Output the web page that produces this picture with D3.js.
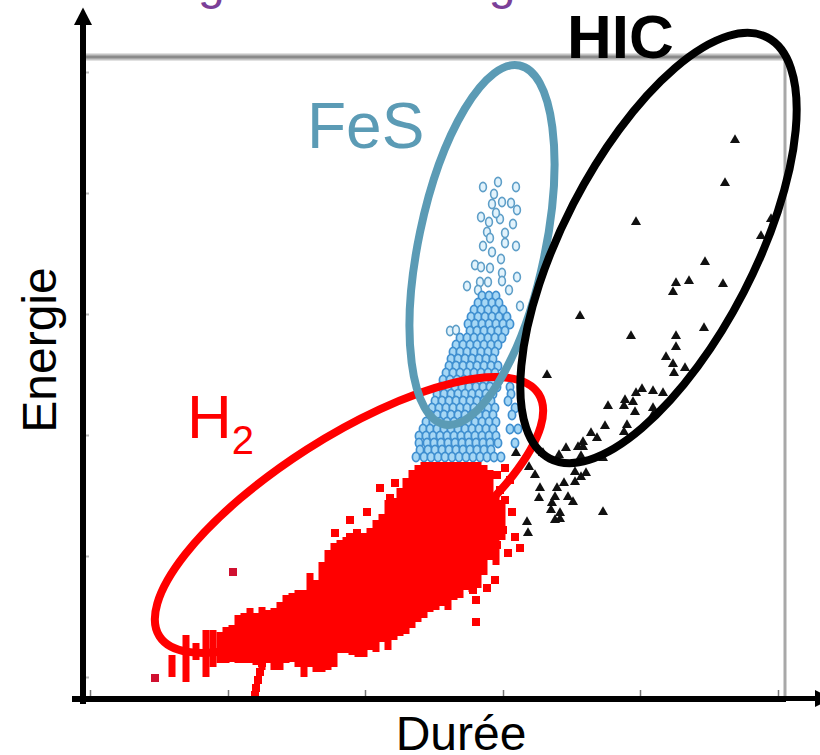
<!DOCTYPE html>
<html>
<head>
<meta charset="utf-8">
<script src="https://cdn.jsdelivr.net/npm/d3@7"></script>
<style>
html,body{margin:0;padding:0;background:#fff;overflow:hidden}
text{font-family:"Liberation Sans",Arial,sans-serif}
</style>
</head>
<body>
<svg id="chart" width="820" height="755"></svg>
<script>
// Chart has no numeric scale: values are arbitrary units.
const titleText = "Diagramme Energie / Durée";
const xLabel = "Durée";
const yLabel = "Energie";
const xTicks = [5,143,280,418,555,693];
const yTicks = [20,141,262,383,504,625];

// HIC events: [durée, énergie]
const hicPoints = [[650,557],[640,514],[551,475],[686,478],[676,461],[620,435],[591,414],[604,416],[638,413],[588,405],
[495,381],[546,361],[619,369],[591,361],[591,350],[581,340],[588,333],[600,329],[589,324],[462,322],
[557,308],[568,306],[578,304],[551,304],[540,297],[548,295],[523,291],[539,291],[550,285],[568,289],
[568,282],[520,271],[542,272],[539,265],[506,264],[512,259],[498,255],[493,250],[498,250],[481,249],
[474,242],[496,241],[458,244],[518,239],[431,244],[444,230],[450,222],[490,225],[501,224],[496,220],
[490,215],[479,214],[455,209],[472,209],[454,199],[470,200],[483,200],[488,195],[467,194],[466,187],
[475,184],[470,177],[475,178],[518,185],[442,175],[443,164]];

// FeS events, isolated ones: [durée, énergie]
const fesSparse = [[398,510],[413,515],[431,510],[409,503],[407,493],[417,495],[426,494],[432,487],[396,480],[404,475],
[415,478],[428,473],[402,465],[420,464],[405,459],[420,454],[398,451],[431,451],[411,484],[407,445],
[390,432],[396,430],[405,429],[416,438],[417,424],[432,420],[395,415],[382,411],[403,415],[417,416],
[424,407],[393,407],[435,391],[365,366],[371,367]];
// FeS events, dense part: one row per energy value
const fesEnergy = [401,394,387,380,373,366,359,352,345,338,331,324,317,310,303,296,289,282,275,268,261,254,247,240];
const fesRows = [
[397,404,411],
[393,400,407,414],
[389,396,403,410,418],
[386,393,400,407,414,422],
[383,390,397,404,411,418,425],
[385,392,399,406,413,420],
[375,382,389,396,403,410,417],
[371,378,385,392,399,406,413],
[368,375,382,389,396,403,410],
[366,373,380,387,394,401,408],
[364,371,378,385,392,399,406,413],
[361,368,375,382,389,396,403,410],
[358,365,372,379,386,393,400,407,414],
[356,363,370,377,384,391,398,405,412,425],
[352,359,366,373,380,387,394,401,408,426],
[350,357,364,371,378,385,392,399,406,423],
[347,354,361,368,375,382,389,396,403,410,430],
[345,352,359,366,373,380,387,394,401,408,427],
[341,348,355,362,369,376,383,390,397,404,411],
[338,345,352,359,366,373,380,387,394,401,408,425,433],
[334,341,348,355,362,369,376,383,390,397,404,411],
[334,342,349,356,363,370,377,384,391,398,405,413,430],
[335,343,350,357,364,371,378,385,392,399,406],
[331,339,346,353,360,367,374,381,388,395,402,409,416]];

// H2 events: the overlapping squares merge, so each column is read as a band
const h2Duree = [87,101,111,121,128,135,141,147,153,159,165,171,177,183,189,195,201,207,213,219,225,231,237,243,249,255,261,267,273,279,285,291,297,303,309,315,321,327,333,339,345,351,357,363,369,375,381,387,393,399,405,411,417];
const h2Low  = [20,15,37,20,30,34,34,35,34,34,34,32,27,34,27,27,34,35,30,20,30,25,25,27,30,44,44,42,40,40,47,45,55,47,57,61,63,69,75,79,85,87,91,87,97,99,107,105,109,122,137,132,157];
const h2High = [42,62,54,67,67,65,70,72,82,84,89,84,90,87,89,95,102,104,107,107,124,117,135,147,154,157,160,164,162,164,169,177,183,197,199,209,219,227,232,235,235,235,235,235,235,235,235,235,235,232,227,202,197];
const h2Isolated = [[70,19],[148,125],[177,34],[175,25],[173,17],[171,9],[170,2],[310,214],[295,209],[282,185],[250,164],[272,164],[265,160],[265,177],[305,199],
[412,222],[420,229],[425,217],[415,207],[420,197],[427,185],[430,160],[423,144],[435,149],[412,177],[418,167],[412,152],[410,117],[402,109],[391,97],[388,107],[391,75],[357,100],[372,104],[382,114],[388,127]];

// Hand-drawn zones, in the same units
const zoneLabel = ["H2","FeS","HIC"];
const zoneCx = [264,397,573.5];
const zoneCy = [182,452,449];
const zoneA = [225,183.4,237];
const zoneB = [78,63.3,96];
const zoneTilt = [32.6,78.2,62.7];

const red = "#ff0000", teal = "#5b9bb5", black = "#000";
const zoneColor = [red, teal, black];

const x = d3.scaleLinear().domain([0,700]).range([85,785]);
const y = d3.scaleLinear().domain([0,640]).range([697,57]);
const rx = Math.abs(x(1)-x(0)), ry = Math.abs(y(1)-y(0));

const svg = d3.select("#chart");

// purple title, cut by the top of the picture
svg.append("text").attr("x",126).attr("y",-1).attr("font-size",48)
  .attr("fill","#7b3f98").text(titleText);

// frame
svg.append("line").attr("x1",x(0)).attr("x2",x(700)).attr("y1",y(640)).attr("y2",y(640))
  .attr("stroke","#c4c4c4").attr("stroke-width",7);
svg.append("line").attr("x1",x(0)).attr("x2",x(700)).attr("y1",y(640)).attr("y2",y(640))
  .attr("stroke","#8a8a8a").attr("stroke-width",3);
svg.append("line").attr("x1",x(700)).attr("x2",x(700)).attr("y1",y(640)).attr("y2",y(0))
  .attr("stroke","#a8a8a8").attr("stroke-width",3);

// small ticks
const gx = svg.append("g").attr("transform",`translate(0,${y(0)})`)
  .call(d3.axisTop(x).tickValues(xTicks).tickSize(7).tickFormat(""));
gx.select(".domain").remove();
gx.selectAll("line").attr("stroke","#777").attr("stroke-width",1.5);
const gy = svg.append("g").attr("transform",`translate(${x(0)},0)`)
  .call(d3.axisRight(y).tickValues(yTicks).tickSize(4).tickFormat(""));
gy.select(".domain").remove();
gy.selectAll("line").attr("stroke","#bbb").attr("stroke-width",2);

// FeS
svg.append("g").selectAll("ellipse").data(fesSparse).join("ellipse")
  .attr("cx",d=>x(d[0])).attr("cy",d=>y(d[1])).attr("rx",3.4).attr("ry",4.6)
  .attr("fill","#e2f3fc").attr("stroke","#5f9fc8").attr("stroke-width",1.6);
const fesDense = fesEnergy.flatMap((e,i)=>fesRows[i].map(d=>[d,e]));
svg.append("g").selectAll("ellipse").data(fesDense).join("ellipse")
  .attr("cx",d=>x(d[0])).attr("cy",d=>y(d[1])).attr("rx",3.6).attr("ry",4.6)
  .attr("fill","#a6d7f5").attr("stroke","#3f8fd0").attr("stroke-width",1.7);

// HIC
svg.append("g").selectAll("path").data(hicPoints).join("path")
  .attr("d",d3.symbol(d3.symbolTriangle,44))
  .attr("transform",d=>`translate(${x(d[0])},${y(d[1])})`)
  .attr("fill","#111");

// H2
svg.append("g").selectAll("rect").data(h2Duree).join("rect")
  .attr("x",d=>x(d)-3.5).attr("width",7)
  .attr("y",(d,i)=>y(h2High[i])).attr("height",(d,i)=>y(h2Low[i])-y(h2High[i]))
  .attr("fill",red);
svg.append("g").selectAll("rect").data(h2Isolated).join("rect")
  .attr("x",d=>x(d[0])-4).attr("y",d=>y(d[1])-4).attr("width",8).attr("height",8)
  .attr("fill",(d,i)=>(i<2?"#d01030":red));

// Zones
svg.append("g").selectAll("ellipse").data(zoneLabel).join("ellipse")
  .attr("cx",0).attr("cy",0)
  .attr("rx",(d,i)=>zoneA[i]*rx).attr("ry",(d,i)=>zoneB[i]*ry)
  .attr("transform",(d,i)=>`translate(${x(zoneCx[i])},${y(zoneCy[i])}) rotate(${-zoneTilt[i]})`)
  .attr("fill","none").attr("stroke",(d,i)=>zoneColor[i]).attr("stroke-width",8);

// Axes
svg.append("line").attr("x1",83).attr("x2",83).attr("y1",22).attr("y2",704).attr("stroke",black).attr("stroke-width",6);
svg.append("path").attr("d","M83,7.5L92,25L74,25Z").attr("fill",black);
svg.append("line").attr("x1",72).attr("x2",786).attr("y1",699).attr("y2",699).attr("stroke",black).attr("stroke-width",6);
svg.append("line").attr("x1",786).attr("x2",818).attr("y1",698.5).attr("y2",698.5).attr("stroke",black).attr("stroke-width",5);
svg.append("path").attr("d","M815,690L832,698.5L815,707Z").attr("fill",black);

// Labels
svg.append("text").attr("x",307).attr("y",148).attr("font-size",64).attr("fill",teal).text("FeS");
const h2 = svg.append("text").attr("x",187).attr("y",438).attr("font-size",62).attr("fill",red).text("H");
h2.append("tspan").attr("font-size",40).attr("dy",16).text("2");
svg.append("text").attr("x",567).attr("y",58).attr("font-size",62).attr("font-weight","bold").attr("fill",black).text("HIC");
svg.append("text").attr("text-anchor","middle").attr("font-size",48)
  .attr("transform","translate(56,350) rotate(-90)").attr("fill",black).text(yLabel);
svg.append("text").attr("text-anchor","middle").attr("x",461).attr("y",750).attr("font-size",48).attr("fill",black).text(xLabel);
</script>
</body>
</html>
